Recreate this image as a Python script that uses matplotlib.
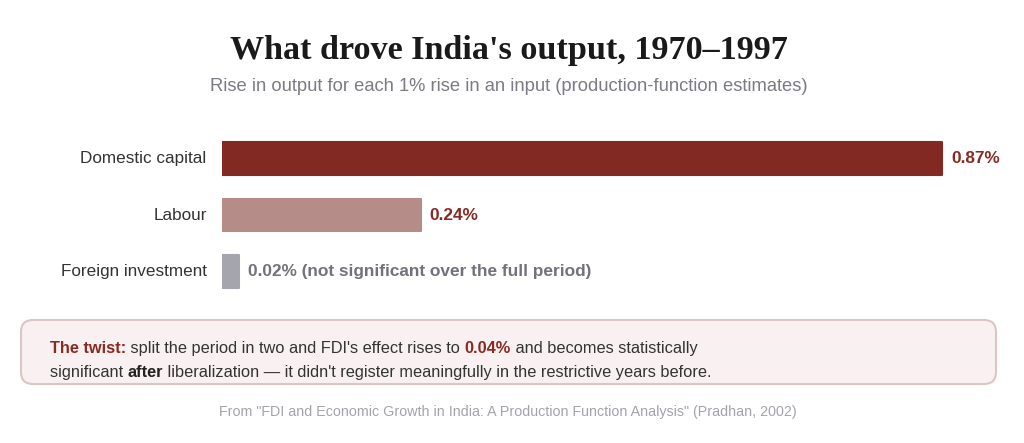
import matplotlib
matplotlib.use("Agg")
import matplotlib.pyplot as plt
from matplotlib.patches import FancyBboxPatch

# Data
categories = ["Domestic capital", "Labour", "Foreign investment"]
values = [0.87, 0.24, 0.02]
value_labels = ["0.87%", "0.24%", "0.02% (not significant over the full period)"]
bar_colors = ["#822923", "#b68c89", "#a5a5ad"]
label_colors = ["#8a2a24", "#8a2a24", "#72727c"]

DARK_RED = "#8a2a24"
TEXT = "#333333"
SANS = "Liberation Sans"

fig = plt.figure(figsize=(10.24, 4.43), dpi=100)

# overlay in pixel coordinates for titles, box and footer
bg = fig.add_axes([0, 0, 1, 1], zorder=0)
bg.set_xlim(0, 1024)
bg.set_ylim(443, 0)
bg.axis("off")

bg.text(509, 59, "What drove India's output, 1970\u20131997", ha="center", va="baseline",
        fontsize=24.6, fontweight="bold", family="Liberation Serif", color="#1a1a1a")
bg.text(509, 91, "Rise in output for each 1% rise in an input (production-function estimates)",
        ha="center", va="baseline", fontsize=13.2, family=SANS, color="#7b7b86")

# bar chart
ax = fig.add_axes([222 / 1024, 1 - 300 / 443, (1000 - 222) / 1024, 170 / 443], zorder=1)
ax.patch.set_alpha(0)
ypos = list(range(len(categories)))
ax.barh(ypos, values, height=0.58, color=bar_colors, edgecolor=bar_colors,
        linewidth=1.5, joinstyle="round")
ax.set_xlim(0, 778 / 827.6)
ax.set_ylim(2.5, -0.5)
ax.axis("off")

for y, v, lab, c, cat in zip(ypos, values, value_labels, label_colors, categories):
    ax.annotate(lab, (v, y), xytext=(6.5, 0), textcoords="offset points", ha="left", va="center",
                fontsize=12.4, fontweight="bold", family=SANS, color=c)
    ax.annotate(cat, (0, y), xytext=(-11, 0), textcoords="offset points", ha="right", va="center",
                fontsize=12.3, family=SANS, color=TEXT)

# callout box
box = FancyBboxPatch((21, 320), 975, 64, boxstyle="round,pad=0,rounding_size=12",
                     facecolor="#f9f1f1", edgecolor="#dcc5c5", linewidth=1.5)
bg.add_patch(box)


def chain(x, y, pieces):
    prev = None
    for txt, weight, color in pieces:
        kw = dict(fontsize=11.8, family=SANS, fontweight=weight, color=color,
                  ha="left", va="bottom")
        if prev is None:
            prev = bg.text(x, y, txt, **kw)
        else:
            prev = bg.annotate(txt, xy=(1, 0), xycoords=prev, **kw)


chain(50, 356, [("The twist:", "bold", DARK_RED),
                (" split the period in two and FDI's effect rises to ", "normal", TEXT),
                ("0.04%", "bold", DARK_RED),
                (" and becomes statistically", "normal", TEXT)])
chain(50, 380, [("significant ", "normal", TEXT),
                ("after", "bold", "#222222"),
                (" liberalization \u2014 it didn't register meaningfully in the restrictive years before.",
                 "normal", TEXT)])

bg.text(508, 416, 'From "FDI and Economic Growth in India: A Production Function Analysis" (Pradhan, 2002)',
        ha="center", va="baseline", fontsize=10.3, family=SANS, color="#a3a3ab")

fig.savefig("out.png", dpi=100, facecolor="white")
